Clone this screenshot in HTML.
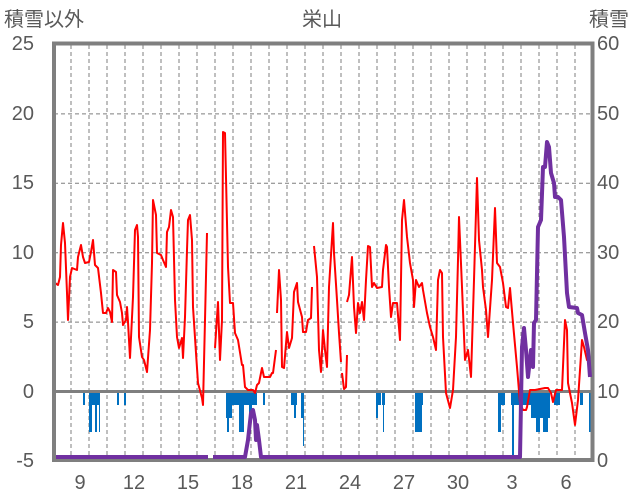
<!DOCTYPE html>
<html><head><meta charset="utf-8"><style>
html,body{margin:0;padding:0;background:#fff;}
svg{display:block;font-family:"Liberation Sans","Noto Sans CJK JP",sans-serif;}
</style></head><body>
<svg width="636" height="501" viewBox="0 0 636 501" xmlns="http://www.w3.org/2000/svg">
<g stroke="#7f7f7f" stroke-width="1" stroke-dasharray="4,3">
<line x1="54" y1="113.9" x2="592" y2="113.9"/>
<line x1="54" y1="183.3" x2="592" y2="183.3"/>
<line x1="54" y1="252.7" x2="592" y2="252.7"/>
<line x1="54" y1="322.1" x2="592" y2="322.1"/>
<line x1="71" y1="45" x2="71" y2="459"/><line x1="89" y1="45" x2="89" y2="459"/><line x1="107" y1="45" x2="107" y2="459"/><line x1="125" y1="45" x2="125" y2="459"/><line x1="143" y1="45" x2="143" y2="459"/><line x1="161" y1="45" x2="161" y2="459"/><line x1="179" y1="45" x2="179" y2="459"/><line x1="197" y1="45" x2="197" y2="459"/><line x1="215" y1="45" x2="215" y2="459"/><line x1="233" y1="45" x2="233" y2="459"/><line x1="251" y1="45" x2="251" y2="459"/><line x1="269" y1="45" x2="269" y2="459"/><line x1="287" y1="45" x2="287" y2="459"/><line x1="305" y1="45" x2="305" y2="459"/><line x1="323" y1="45" x2="323" y2="459"/><line x1="341" y1="45" x2="341" y2="459"/><line x1="359" y1="45" x2="359" y2="459"/><line x1="377" y1="45" x2="377" y2="459"/><line x1="395" y1="45" x2="395" y2="459"/><line x1="413" y1="45" x2="413" y2="459"/><line x1="431" y1="45" x2="431" y2="459"/><line x1="449" y1="45" x2="449" y2="459"/><line x1="467" y1="45" x2="467" y2="459"/><line x1="485" y1="45" x2="485" y2="459"/><line x1="503" y1="45" x2="503" y2="459"/><line x1="521" y1="45" x2="521" y2="459"/><line x1="539" y1="45" x2="539" y2="459"/><line x1="557" y1="45" x2="557" y2="459"/><line x1="575" y1="45" x2="575" y2="459"/>
</g>
<g fill="#0070c0">
<rect x="83" y="393" width="2" height="12"/>
<rect x="89" y="393" width="3" height="39"/><rect x="92" y="393" width="3" height="12"/><rect x="95" y="393" width="2" height="39"/><rect x="97" y="393" width="3" height="12"/><rect x="99" y="393" width="1" height="39"/>
<rect x="117" y="393" width="2" height="12"/><rect x="124" y="393" width="2" height="12"/>
<rect x="226" y="393" width="6" height="25"/><rect x="227" y="393" width="2" height="39"/><rect x="232" y="393" width="8" height="12"/><rect x="239" y="393" width="5" height="39"/><rect x="244" y="393" width="13" height="12"/><rect x="249" y="393" width="3" height="25"/><rect x="263" y="393" width="2" height="12"/>
<rect x="291" y="393" width="6" height="12"/><rect x="294" y="393" width="2" height="25"/><rect x="301" y="393" width="3" height="25"/><rect x="303" y="393" width="1" height="53"/>
<rect x="376" y="393" width="2" height="25"/><rect x="378" y="393" width="3" height="12"/><rect x="382" y="393" width="3" height="12"/><rect x="383" y="393" width="1" height="39"/>
<rect x="415" y="393" width="8" height="12"/><rect x="415" y="393" width="7" height="39"/>
<rect x="498" y="393" width="3" height="39"/><rect x="499" y="393" width="6" height="12"/>
<rect x="511" y="393" width="9" height="12"/><rect x="512" y="393" width="2" height="65"/>
<rect x="520" y="393" width="30" height="12"/><rect x="531" y="393" width="8" height="25"/><rect x="536" y="393" width="4" height="39"/><rect x="543" y="393" width="5" height="39"/><rect x="540" y="393" width="10" height="25"/>
<rect x="554" y="393" width="6" height="12"/><rect x="580" y="393" width="3" height="12"/><rect x="589" y="393" width="2" height="39"/>
</g>
<line x1="54" y1="391.5" x2="592" y2="391.5" stroke="#7f7f7f" stroke-width="3"/>
<g fill="none" stroke="#ff0000" stroke-width="2" stroke-linejoin="round">
<polyline points="53,267 55,283 58,285 60,277 61,245 63,223 65,243 67,293 68,320 70,277 72,268 77,270 78,257 81,245 83,257 85,263 89,262 91,252 93,240 95,265 98,268 101,293 103,313 106,313 108,308 110,312 112,322 113,270 116,272 117,295 120,302 122,313 123,325 126,320 127,307 128,322 130,358 133,297 135,230 137,225 138,237 139,337 142,357 144,360 147,372 150,330 152,263 153,200 156,215 157,253 161,255 163,260 166,267 167,232 169,227 171,210 173,217 175,300 177,337 179,348 182,338 183,358 185,317 187,250 188,220 190,215 192,240 193,307 196,353 198,383 202,398 203,405 205,320 207,233"/>
<polyline points="215,348 218,302 220,360 222,320 223,132 225,133 228,267 230,303 233,303 235,333 238,340 242,365 243,365 245,387 248,390 253,390 255,393 257,385 259,383 262,368 264,377 270,377 272,373 273,373 276,350"/>
<polyline points="277,313 279,270 281,300 282,367 284,368 287,332 289,348 292,338 294,292 297,283 298,302 302,317 303,332 306,332 308,320 311,318 312,287"/>
<polyline points="314,246 317,277 319,350 321,372 323,330 325,350 327,367 329,287 333,223 334,253 337,300 339,333 341,362"/>
<polyline points="342,373 344,389 346,387 347,355"/>
<polyline points="347,302 349,295 352,257 354,307 356,333 358,303 360,313 362,302 364,320 366,280 368,246 370,247 372,287 374,283 377,288 382,287 383,270 386,245 387,247 389,287 391,317 393,303 397,303 400,340 402,220 404,200 407,237 410,263 413,280 414,307 416,280 419,287 422,283 423,290 427,313 430,327 433,337 436,350 438,280 440,270 442,273 443,337 446,393 450,408 453,390 456,337 458,260 459,217 462,287 465,360 468,350 471,377 474,280 477,178 479,240 482,270 483,287 486,310 488,337 492,280 495,208 497,263 500,267 503,283 506,307 508,308 510,288 513,323 517,367 520,403 523,410 526,410 527,407 530,390 535,390 545,388 548,388 551,393 553,402 556,390 562,390 565,320 567,330 568,383 572,403 575,425 578,400 582,340 584,347 587,360 590,360"/>
</g>
<rect x="54" y="43.5" width="538.5" height="416.5" fill="none" stroke="#7f7f7f" stroke-width="4"/>
<g fill="none" stroke="#7030a0" stroke-width="4" stroke-linejoin="round">
<polyline points="56,457 208,457"/>
<polyline points="213,457 245,457 248,440 251,413 253,410 255,420 256,440 257,425 259,440 261,457 520,457 522,347 524,328 526,350 528,377 531,350 533,367 534,323 536,320 538,227 541,220 543,167 545,167 547,142 549,147 551,173 554,183 555,197 558,197 561,200 564,237 567,293 569,307 577,308 578,313 582,315 585,333 588,350 590,377"/>
</g>
<g fill="#595959" font-size="20">
<text x="34" y="50" text-anchor="end">25</text>
<text x="34" y="120" text-anchor="end">20</text>
<text x="34" y="189" text-anchor="end">15</text>
<text x="34" y="259" text-anchor="end">10</text>
<text x="34" y="328" text-anchor="end">5</text>
<text x="34" y="398" text-anchor="end">0</text>
<text x="34" y="467" text-anchor="end">-5</text>
<text x="597" y="50">60</text>
<text x="597" y="120">50</text>
<text x="597" y="189">40</text>
<text x="597" y="259">30</text>
<text x="597" y="328">20</text>
<text x="597" y="398">10</text>
<text x="597" y="467">0</text>
<g text-anchor="middle">
<text x="80" y="489">9</text><text x="134" y="489">12</text><text x="188" y="489">15</text><text x="242" y="489">18</text><text x="296" y="489">21</text><text x="350" y="489">24</text><text x="404" y="489">27</text><text x="458" y="489">30</text><text x="512" y="489">3</text><text x="566" y="489">6</text>
<text x="322" y="26">栄山</text>
</g>
<text x="4" y="26">積雪以外</text>
<text x="589" y="26">積雪</text>
</g>
</svg>
</body></html>
